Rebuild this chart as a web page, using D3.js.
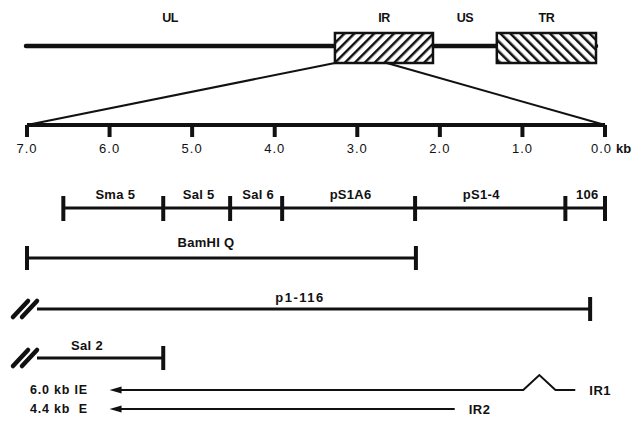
<!DOCTYPE html>
<html>
<head>
<meta charset="utf-8">
<script src="https://cdn.jsdelivr.net/npm/d3@7"></script>
<style>
body { margin: 0; background: #fff; }
text { font-family: "Liberation Sans", Arial, sans-serif; fill: #111; }
</style>
</head>
<body>
<div id="map"></div>
<script>
var svgWidth = 639;
var svgHeight = 421;

// genome segments, in fraction of the genome
var segNames = ["UL", "IR", "US", "TR"];
var segStart = [0, 0.542, 0.714, 0.826];
var segEnd = [0.542, 0.714, 0.826, 1.0];
var segBox = [false, true, false, true];

// the part of IR that is blown up below (genome fraction)
var zoomFrom = [0.542, 0.633];

// kb scale
var kbTicks = [7, 6, 5, 4, 3, 2, 1, 0];

// restriction fragments (kb)
var fragBounds = [6.56, 5.35, 4.54, 3.91, 2.30, 0.48, 0.0];
var fragNames = ["Sma 5", "Sal 5", "Sal 6", "pS1A6", "pS1-4", "106"];

// clones (kb), leftBreak = extends beyond the map
var cloneNames = ["BamHI Q", "p1-116", "Sal 2"];
var cloneStart = [7.0, 7.0, 7.0];
var cloneEnd = [2.29, 0.18, 5.35];
var cloneBreak = [false, true, true];

// transcripts (kb)
var txNames = ["6.0 kb IE", "4.4 kb  E"];
var txEndNames = ["IR1", "IR2"];
var txFrom = [6.0, 6.0];
var txTo = [0.36, 1.82];
var txIntron = [[0.99, 0.6], null];

var svg = d3.select("#map")
	.append("svg")
	.attr("width", svgWidth)
	.attr("height", svgHeight);

svg.append("rect").attr("width", svgWidth).attr("height", svgHeight).attr("fill", "#fff");

var defs = svg.append("defs");
function hatch(id, angle) {
	var p = defs.append("pattern")
		.attr("id", id)
		.attr("patternUnits", "userSpaceOnUse")
		.attr("width", 7)
		.attr("height", 7)
		.attr("patternTransform", `rotate(${angle})`);
	p.append("rect").attr("width", 7).attr("height", 7).attr("fill", "#fff");
	p.append("line")
		.attr("x1", 0).attr("y1", 0).attr("x2", 0).attr("y2", 7)
		.attr("stroke", "#111").attr("stroke-width", 5);
}
hatch("hatchR", 45);
hatch("hatchL", -45);

var gx = d3.scaleLinear().domain([0, 1]).range([26, 596]);
var kx = d3.scaleLinear().domain([7, 0]).range([27, 605]);

var genomeY = 46;
var scaleY = 125;

// genome line
svg.append("line")
	.attr("x1", gx(0)).attr("x2", gx(1))
	.attr("y1", genomeY).attr("y2", genomeY)
	.attr("stroke", "#111").attr("stroke-width", 4.5)
	.attr("stroke-linecap", "round");

// expansion lines
svg.append("line")
	.attr("x1", gx(zoomFrom[0])).attr("y1", 63)
	.attr("x2", kx(7)).attr("y2", scaleY)
	.attr("stroke", "#111").attr("stroke-width", 2);
svg.append("line")
	.attr("x1", gx(zoomFrom[1])).attr("y1", 63)
	.attr("x2", kx(0)).attr("y2", scaleY)
	.attr("stroke", "#111").attr("stroke-width", 2);

segNames.forEach(function(name, i) {
	if (segBox[i]) {
		svg.append("rect")
			.attr("x", gx(segStart[i]))
			.attr("y", 33)
			.attr("width", gx(segEnd[i]) - gx(segStart[i]))
			.attr("height", 30)
			.attr("fill", i === 1 ? "url(#hatchR)" : "url(#hatchL)")
			.attr("stroke", "#111")
			.attr("stroke-width", 2.5);
	}
	var cx = (gx(segStart[i]) + gx(segEnd[i])) / 2;
	if (name === "UL") cx = 170;
	svg.append("text")
		.attr("x", cx)
		.attr("y", 22)
		.attr("text-anchor", "middle")
		.attr("font-size", 12.5)
		.attr("font-weight", "bold")
		.attr("letter-spacing", -0.5)
		.text(name);
});

// kb axis
svg.append("line")
	.attr("x1", kx(7)).attr("x2", kx(0))
	.attr("y1", scaleY).attr("y2", scaleY)
	.attr("stroke", "#111").attr("stroke-width", 4);

var axis = svg.selectAll(".kbtick")
	.data(kbTicks)
	.enter()
	.append("g")
	.attr("class", "kbtick")
	.attr("transform", d => `translate(${kx(d)},0)`);
axis.append("line")
	.attr("y1", scaleY).attr("y2", scaleY + 12)
	.attr("stroke", "#111").attr("stroke-width", 4);
var tickText = axis.append("text")
	.attr("y", 153)
	.attr("text-anchor", "middle")
	.attr("font-size", 13)
	.attr("letter-spacing", 1)
	.text(d => d.toFixed(1));
tickText.filter(d => d === 0)
	.append("tspan")
	.attr("font-weight", "bold")
	.attr("letter-spacing", 0)
	.attr("dx", 4)
	.text("kb");
tickText.filter(d => d === 0).attr("text-anchor", "start").attr("dx", -14);

// fragments
var fragY = 208;
svg.append("line")
	.attr("x1", kx(fragBounds[0])).attr("x2", kx(fragBounds[fragBounds.length - 1]))
	.attr("y1", fragY).attr("y2", fragY)
	.attr("stroke", "#111").attr("stroke-width", 3);
svg.selectAll(".fragtick")
	.data(fragBounds)
	.enter()
	.append("line")
	.attr("x1", d => kx(d)).attr("x2", d => kx(d))
	.attr("y1", fragY - 12).attr("y2", fragY + 13)
	.attr("stroke", "#111").attr("stroke-width", 4);
svg.selectAll(".fraglabel")
	.data(fragNames)
	.enter()
	.append("text")
	.attr("x", (d, i) => (kx(fragBounds[i]) + kx(fragBounds[i + 1])) / 2 + (d === "pS1-4" ? -9 : 2))
	.attr("y", 199)
	.attr("text-anchor", "middle")
	.attr("font-size", 13)
	.attr("font-weight", "bold")
	.attr("letter-spacing", 0.3)
	.text(d => d);

// clones
var cloneY = [258, 309, 358];
var labelY = [247, 302, 350];
var labelX = [206, 300, 87];
cloneNames.forEach(function(name, i) {
	var y = cloneY[i];
	var x0 = cloneBreak[i] ? kx(cloneStart[i]) + 10 : kx(cloneStart[i]);
	var x1 = kx(cloneEnd[i]);
	svg.append("line")
		.attr("x1", x0).attr("x2", x1)
		.attr("y1", y).attr("y2", y)
		.attr("stroke", "#111").attr("stroke-width", 3);
	svg.append("line")
		.attr("x1", x1).attr("x2", x1)
		.attr("y1", y - 12).attr("y2", y + 12)
		.attr("stroke", "#111").attr("stroke-width", 4);
	if (cloneBreak[i]) {
		[0, 9].forEach(function(off) {
			svg.append("line")
				.attr("x1", kx(7) - 14 + off).attr("y1", y + 8)
				.attr("x2", kx(7) + 1 + off).attr("y2", y - 8)
				.attr("stroke", "#111").attr("stroke-width", 4.5)
				.attr("stroke-linecap", "round");
		});
	} else {
		svg.append("line")
			.attr("x1", x0).attr("x2", x0)
			.attr("y1", y - 12).attr("y2", y + 12)
			.attr("stroke", "#111").attr("stroke-width", 4);
	}
	svg.append("text")
		.attr("x", labelX[i])
		.attr("y", labelY[i])
		.attr("text-anchor", "middle")
		.attr("font-size", 13)
		.attr("font-weight", "bold")
		.attr("letter-spacing", name === "p1-116" ? 1.5 : 0.3)
		.text(name);
});

// transcripts
var txY = [390, 409];
txNames.forEach(function(name, i) {
	var y = txY[i];
	var xs = kx(txFrom[i]);
	var pts = [[xs + 8, y]];
	if (txIntron[i]) {
		var a = kx(txIntron[i][0]), b = kx(txIntron[i][1]);
		pts.push([a, y], [(a + b) / 2, y - 15], [b, y]);
	}
	pts.push([kx(txTo[i]), y]);
	svg.append("path")
		.attr("d", d3.line()(pts))
		.attr("fill", "none")
		.attr("stroke", "#111")
		.attr("stroke-width", 2);
	svg.append("path")
		.attr("d", d3.line()([[xs, y], [xs + 12, y - 3.5], [xs + 12, y + 3.5]]) + "Z")
		.attr("fill", "#111");
	svg.append("text")
		.attr("x", 30)
		.attr("y", y + 4)
		.attr("font-size", 12.5)
		.attr("font-weight", "bold")
		.attr("letter-spacing", 0.8)
		.attr("xml:space", "preserve")
		.style("white-space", "pre")
		.text(name);
	svg.append("text")
		.attr("x", kx(txTo[i]) + 14)
		.attr("y", y + 5)
		.attr("font-size", 13)
		.attr("font-weight", "bold")
		.attr("letter-spacing", 0.5)
		.text(txEndNames[i]);
});
</script>
</body>
</html>
